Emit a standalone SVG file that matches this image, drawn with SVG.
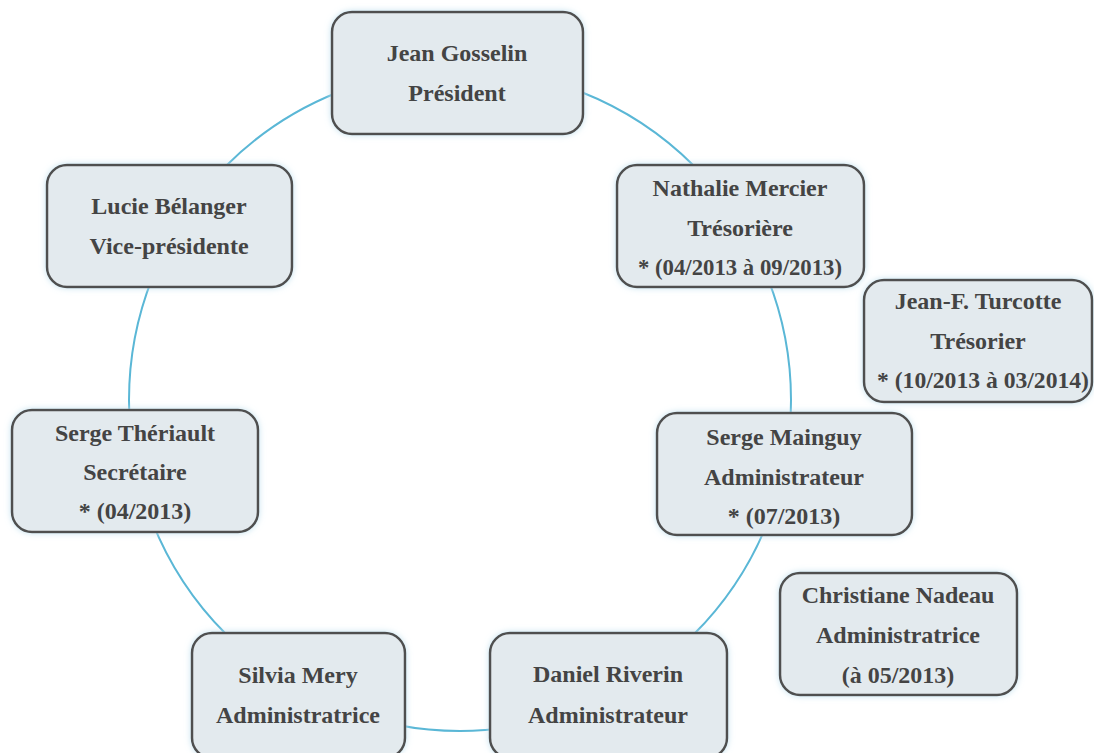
<svg xmlns="http://www.w3.org/2000/svg" width="1094" height="753" viewBox="0 0 1094 753">
<style>
.box{fill:#e3eaee;stroke:#505050;stroke-width:2.5;filter:url(#glow)}
.t{font-family:"Liberation Serif","DejaVu Serif",serif;font-weight:bold;font-size:24px;fill:#444444;text-anchor:middle;dominant-baseline:central}
.conn{fill:none;stroke:#5ab7d6;stroke-width:2}
</style>
<defs>
<filter id="glow" x="-10%" y="-10%" width="120%" height="120%">
<feDropShadow dx="0" dy="0" stdDeviation="3" flood-color="#bfe0ee" flood-opacity="0.9"/>
</filter>
</defs>
<rect width="1094" height="753" fill="#ffffff"/>
<g id="connectors">
<circle class="conn" cx="460" cy="400" r="331"/>
</g>
<g id="n-gosselin">
<rect class="box" x="332" y="12" width="251" height="122" rx="20"/>
<text class="t" x="457" y="53">Jean Gosselin</text>
<text class="t" x="457" y="93">Président</text>
</g>
<g id="n-mercier">
<rect class="box" x="617" y="165" width="247" height="122" rx="20"/>
<text class="t" x="740" y="188">Nathalie Mercier</text>
<text class="t" x="740" y="228">Trésorière</text>
<text class="t" x="740" y="267" textLength="204" lengthAdjust="spacingAndGlyphs">* (04/2013 à 09/2013)</text>
</g>
<g id="n-turcotte">
<rect class="box" x="864" y="280" width="228" height="122" rx="20"/>
<text class="t" x="978" y="301">Jean-F. Turcotte</text>
<text class="t" x="978" y="341">Trésorier</text>
<text class="t" x="983" y="380" textLength="212" lengthAdjust="spacingAndGlyphs">* (10/2013 à 03/2014)</text>
</g>
<g id="n-belanger">
<rect class="box" x="47" y="165" width="245" height="122" rx="20"/>
<text class="t" x="169" y="206">Lucie Bélanger</text>
<text class="t" x="169" y="246">Vice-présidente</text>
</g>
<g id="n-theriault">
<rect class="box" x="12" y="410" width="246" height="122" rx="20"/>
<text class="t" x="135" y="433">Serge Thériault</text>
<text class="t" x="135" y="472">Secrétaire</text>
<text class="t" x="135" y="511">* (04/2013)</text>
</g>
<g id="n-mainguy">
<rect class="box" x="657" y="413" width="255" height="122" rx="20"/>
<text class="t" x="784" y="437">Serge Mainguy</text>
<text class="t" x="784" y="477">Administrateur</text>
<text class="t" x="784" y="516">* (07/2013)</text>
</g>
<g id="n-nadeau">
<rect class="box" x="780" y="573" width="237" height="122" rx="20"/>
<text class="t" x="898" y="595">Christiane Nadeau</text>
<text class="t" x="898" y="635">Administratrice</text>
<text class="t" x="898" y="675">(à 05/2013)</text>
</g>
<g id="n-mery">
<rect class="box" x="192" y="633" width="213" height="125" rx="20"/>
<text class="t" x="298" y="675">Silvia Mery</text>
<text class="t" x="298" y="715">Administratrice</text>
</g>
<g id="n-riverin">
<rect class="box" x="490" y="633" width="237" height="125" rx="20"/>
<text class="t" x="608" y="674">Daniel Riverin</text>
<text class="t" x="608" y="715">Administrateur</text>
</g>
</svg>
